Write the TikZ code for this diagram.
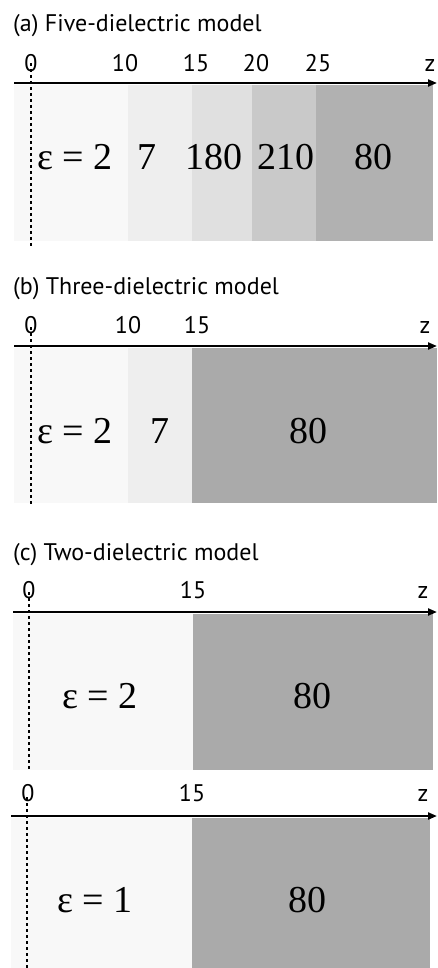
\documentclass[tikz,border=0pt]{standalone}
\usepackage{fontspec}
\setmainfont{Liberation Serif}
\newfontfamily\labfont{PT Sans}
\usetikzlibrary{arrows.meta}
\definecolor{bandA}{HTML}{F8F8F8}
\definecolor{bandB}{HTML}{EEEEEE}
\definecolor{bandC}{HTML}{E0E0E0}
\definecolor{bandD}{HTML}{C9C9C9}
\definecolor{bandE}{HTML}{B1B1B1}
\definecolor{bandW}{HTML}{AAAAAA}
\tikzset{
  ptitle/.style={anchor=base west, font=\labfont\fontsize{24}{24}\selectfont, inner sep=0pt},
  tick/.style={anchor=base, font=\labfont\fontsize{24}{24}\selectfont, inner sep=0pt},
  epsl/.style={anchor=base west, font=\rmfamily\fontsize{38}{38}\selectfont, inner sep=0pt},
  epsv/.style={anchor=base, font=\rmfamily\fontsize{38}{38}\selectfont, inner sep=0pt},
  zaxis/.style={line width=2.1pt, -{Triangle[length=9pt,width=7pt]}},
  zeroline/.style={line width=2.8pt, dash pattern=on 3pt off 3pt},
}
\begin{document}
\begin{tikzpicture}[x=1pt,y=-1pt]
\useasboundingbox (0,0) rectangle (437,968);
\fill[white] (0,0) rectangle (437,968);
% ---------- (a)
\fill[bandA] (14,85) rectangle (128,241);
\fill[bandB] (128,85) rectangle (192,241);
\fill[bandC] (192,85) rectangle (252,241);
\fill[bandD] (252,85) rectangle (316,241);
\fill[bandE] (316,85) rectangle (433,241);
\coordinate (a0t) at (31,63);
\coordinate (a0b) at (31,247);
\draw[zeroline] (a0t) -- (a0b);
\coordinate (aS) at (14,83);
\coordinate (aE) at (437,83);
\draw[zaxis] (aS) -- (aE);
\node[ptitle] (ta) at (13,32) {(a) Five-dielectric model};
\node[tick] (a0) at (31,72) {0};
\node[tick] (a10) at (125,72) {10};
\node[tick] (a15) at (196,72) {15};
\node[tick] (a20) at (256,72) {20};
\node[tick] (a25) at (318,72) {25};
\node[tick] (az) at (430,72) {z};
\node[epsl] (ae1) at (37,170) {ε = 2};
\node[epsv] (ae2) at (147,170) {7};
\node[epsv] (ae3) at (214,170) {180};
\node[epsv] (ae4) at (286,170) {210};
\node[epsv] (ae5) at (373,170) {80};
% ---------- (b)
\fill[bandA] (14,348) rectangle (128,503);
\fill[bandB] (128,348) rectangle (192,503);
\fill[bandW] (192,348) rectangle (437,503);
\coordinate (b0t) at (31,327);
\coordinate (b0b) at (31,505);
\draw[zeroline] (b0t) -- (b0b);
\coordinate (bS) at (14,346);
\coordinate (bE) at (437,346);
\draw[zaxis] (bS) -- (bE);
\node[ptitle] (tb) at (13,294) {(b) Three-dielectric model};
\node[tick] (b0) at (31,333) {0};
\node[tick] (b10) at (128,333) {10};
\node[tick] (b15) at (197,333) {15};
\node[tick] (bz) at (425,333) {z};
\node[epsl] (be1) at (37,443) {ε = 2};
\node[epsv] (be2) at (160,443) {7};
\node[epsv] (be3) at (308,443) {80};
% ---------- (c)
\fill[bandA] (13,614) rectangle (193,770);
\fill[bandW] (193,614) rectangle (433,770);
\coordinate (c0t) at (29,592);
\coordinate (c0b) at (29,770);
\draw[zeroline] (c0t) -- (c0b);
\coordinate (cS) at (13,612);
\coordinate (cE) at (437,612);
\draw[zaxis] (cS) -- (cE);
\node[ptitle] (tc) at (13,560) {(c) Two-dielectric model};
\node[tick] (c0) at (29,598) {0};
\node[tick] (c15) at (193,598) {15};
\node[tick] (cz) at (423,598) {z};
\node[epsl] (ce1) at (62,708) {ε = 2};
\node[epsv] (ce2) at (312,708) {80};
% ---------- (d)
\fill[bandA] (11,818) rectangle (192,968);
\fill[bandW] (192,818) rectangle (430,968);
\coordinate (d0t) at (27,797);
\coordinate (d0b) at (27,968);
\draw[zeroline] (d0t) -- (d0b);
\coordinate (dS) at (11,816);
\coordinate (dE) at (437,816);
\draw[zaxis] (dS) -- (dE);
\node[tick] (d0) at (28,801) {0};
\node[tick] (d15) at (192,801) {15};
\node[tick] (dz) at (423,801) {z};
\node[epsl] (de1) at (57,912) {ε = 1};
\node[epsv] (de2) at (307,912) {80};
\end{tikzpicture}
\end{document}
